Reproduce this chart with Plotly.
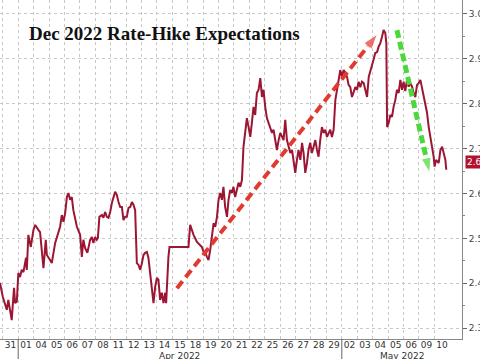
import plotly.graph_objects as go

# trading-day labels (Mar 31 .. May 10)
day_labels = ["31", "01", "04", "05", "06", "07", "08", "11", "12", "13", "14", "15", "18", "19",
              "20", "21", "22", "25", "26", "27", "28", "29", "02", "03", "04", "05", "06", "09", "10"]
month_labels = ["Apr 2022", "May 2022"]
month_start = [1, 22]          # index of first trading day of each month
month_end = [22, 29.8]

# position in trading days (fractional) and implied Dec-2022 rate
t = [-0.18, 0.00, 0.26, 0.36, 0.58, 0.65, 0.73, 0.80, 0.91, 1.01, 1.12, 1.23, 1.34, 1.51, 1.56,
     1.66, 1.82, 1.99, 2.10, 2.31, 2.42, 2.53, 2.64, 2.79, 2.86, 3.07, 3.18, 3.40, 3.61, 3.72,
     3.83, 3.94, 4.05, 4.16, 4.26, 4.37, 4.48, 4.58, 4.81, 4.91, 5.02, 5.13, 5.23, 5.34, 5.49,
     5.67, 5.78, 5.88, 5.99, 6.10, 6.17, 6.27, 6.43, 6.53, 6.64, 6.75, 6.86, 6.97, 7.08, 7.29,
     7.40, 7.51, 7.62, 7.73, 7.83, 7.94, 8.05, 8.16, 8.27, 8.38, 8.48, 8.59, 8.70, 8.81, 8.92,
     9.03, 9.13, 9.24, 9.35, 9.45, 9.56, 9.68, 9.78, 9.89, 10.00, 10.10, 10.21, 10.32, 10.43,
     10.54, 10.60, 10.75, 10.82, 12.05, 12.16, 12.27, 12.38, 12.60, 12.81, 12.92, 13.03, 13.14,
     13.25, 13.35, 13.46, 13.57, 13.68, 13.79, 13.90, 14.00, 14.11, 14.22, 14.32, 14.43, 14.55,
     14.65, 14.76, 14.87, 14.97, 15.08, 15.19, 15.30, 15.41, 15.52, 15.62, 15.73, 15.84, 15.95,
     16.06, 16.17, 16.27, 16.38, 16.49, 16.60, 16.71, 16.82, 16.92, 17.03, 17.14, 17.25, 17.36,
     17.47, 17.57, 17.68, 17.79, 17.90, 18.01, 18.22, 18.33, 18.44, 18.66, 18.77, 18.87, 18.98,
     19.09, 19.19, 19.31, 19.42, 19.52, 19.63, 19.74, 19.84, 19.95, 20.06, 20.17, 20.28, 20.39,
     20.49, 20.60, 20.71, 20.82, 20.93, 21.04, 21.14, 21.25, 21.36, 21.47, 21.58, 21.69, 21.79,
     21.90, 22.01, 22.12, 22.23, 22.34, 22.44, 22.55, 22.66, 22.77, 22.88, 22.99, 23.09, 23.20,
     23.31, 23.42, 23.53, 23.64, 23.75, 23.85, 23.96, 24.06, 24.17, 24.29, 24.39, 24.50, 24.61,
     24.71, 24.82, 24.89, 24.94, 25.04, 25.15, 25.26, 25.36, 25.47, 25.58, 25.69, 25.80, 25.91,
     26.01, 26.12, 26.23, 26.34, 26.45, 26.56, 26.66, 26.77, 26.88, 26.99, 27.10, 27.21, 27.31,
     27.42, 27.53, 27.64, 27.75, 27.86, 27.96, 28.02, 28.12, 28.29, 28.40, 28.51, 28.61, 28.72,
     28.78]
rate = [2.401, 2.370, 2.341, 2.363, 2.318, 2.347, 2.390, 2.356, 2.359, 2.423, 2.414, 2.430, 2.425,
        2.457, 2.430, 2.508, 2.481, 2.519, 2.530, 2.519, 2.514, 2.474, 2.434, 2.497, 2.463, 2.452,
        2.445, 2.490, 2.512, 2.526, 2.552, 2.537, 2.557, 2.592, 2.601, 2.586, 2.592, 2.563, 2.526,
        2.519, 2.508, 2.459, 2.497, 2.479, 2.468, 2.497, 2.503, 2.490, 2.503, 2.497, 2.501, 2.548,
        2.552, 2.546, 2.559, 2.548, 2.546, 2.559, 2.579, 2.604, 2.597, 2.581, 2.570, 2.570, 2.541,
        2.548, 2.548, 2.568, 2.570, 2.581, 2.575, 2.563, 2.445, 2.441, 2.430, 2.445, 2.463, 2.468,
        2.470, 2.457, 2.423, 2.379, 2.356, 2.392, 2.412, 2.408, 2.363, 2.379, 2.356, 2.379, 2.356,
        2.459, 2.481, 2.481, 2.530, 2.519, 2.508, 2.492, 2.486, 2.481, 2.470, 2.468, 2.459, 2.452,
        2.474, 2.503, 2.534, 2.526, 2.548, 2.586, 2.601, 2.586, 2.615, 2.570, 2.548, 2.586, 2.608,
        2.601, 2.615, 2.592, 2.612, 2.624, 2.615, 2.630, 2.704, 2.737, 2.768, 2.748, 2.726, 2.759,
        2.793, 2.775, 2.824, 2.831, 2.857, 2.815, 2.831, 2.793, 2.768, 2.757, 2.748, 2.735, 2.742,
        2.719, 2.697, 2.719, 2.735, 2.719, 2.764, 2.719, 2.690, 2.697, 2.675, 2.646, 2.675, 2.697,
        2.675, 2.713, 2.690, 2.646, 2.668, 2.697, 2.713, 2.690, 2.704, 2.719, 2.697, 2.682, 2.719,
        2.748, 2.735, 2.742, 2.726, 2.735, 2.742, 2.726, 2.742, 2.808, 2.831, 2.853, 2.875, 2.860,
        2.875, 2.869, 2.860, 2.842, 2.837, 2.815, 2.824, 2.837, 2.831, 2.849, 2.837, 2.849, 2.846,
        2.831, 2.815, 2.860, 2.871, 2.882, 2.898, 2.913, 2.915, 2.927, 2.935, 2.949, 2.964, 2.958,
        2.935, 2.748, 2.757, 2.775, 2.771, 2.793, 2.808, 2.831, 2.824, 2.853, 2.831, 2.849, 2.828,
        2.853, 2.838, 2.846, 2.838, 2.824, 2.815, 2.842, 2.846, 2.853, 2.835, 2.815, 2.802, 2.780,
        2.748, 2.726, 2.704, 2.682, 2.660, 2.675, 2.668, 2.697, 2.704, 2.690, 2.675, 2.653]
last_value = 2.67

# annotation arrows (start/end in data units)
red_arrow_t = [11.30, 24.31]
red_arrow_v = [2.389, 2.955]
green_arrow_t = [25.58, 27.70]
green_arrow_v = [2.964, 2.646]

y_ticks = [2.3, 2.4, 2.5, 2.6, 2.7, 2.8, 2.9, 3.0]

fig = go.Figure()
fig.add_trace(go.Scatter(x=t, y=rate, mode="lines",
                         line=dict(color="#9c1634", width=2), hoverinfo="skip"))
fig.add_trace(go.Scatter(x=red_arrow_t, y=red_arrow_v, mode="lines+markers",
                         line=dict(color="#e23a2e", width=4, dash="9px,5px"),
                         marker=dict(symbol="arrow", size=[0, 16], angleref="previous",
                                     color="#e23a2e"), hoverinfo="skip"))
fig.add_trace(go.Scatter(x=green_arrow_t, y=green_arrow_v, mode="lines+markers",
                         line=dict(color="#4ad83a", width=5, dash="8px,4px"),
                         marker=dict(symbol="arrow", size=[0, 16], angleref="previous",
                                     color="#4ad83a"), hoverinfo="skip"))

grid_col = "#c8c8c8"
fig.update_xaxes(range=[-0.18, 29.8], tickvals=[i + 0.5 for i in range(len(day_labels))],
                 ticktext=day_labels, showgrid=False, ticks="", zeroline=False,
                 ticklabelstandoff=-3,
                 tickfont=dict(family="DejaVu Sans", size=9, color="#333"),
                 showline=True, linecolor="#888", linewidth=1,
                 minor=dict(tickvals=list(range(0, len(day_labels))), showgrid=True,
                            gridcolor=grid_col, griddash="dot", gridwidth=1, ticks=""))
fig.update_yaxes(range=[2.276, 3.031], side="right", tickvals=y_ticks, tickformat=".2f",
                 showgrid=True, gridcolor=grid_col, griddash="dot", gridwidth=1,
                 zeroline=False, ticks="outside", ticklen=4, tickcolor="#666",
                 showline=True, linecolor="#888", linewidth=1, automargin=False,
                 ticklabeloverflow="allow",
                 tickfont=dict(family="DejaVu Sans", size=9, color="#444"),
                 minor=dict(dtick=0.05, ticks="outside", ticklen=2, tickcolor="#888", showgrid=False))

# month separators and labels
for s, e, lab in zip(month_start, month_end, month_labels):
    fig.add_shape(type="line", xref="x", yref="paper", x0=s, x1=s, y0=0, y1=-0.06,
                  line=dict(color="#666", width=1))
    fig.add_annotation(x=(s + e) / 2, y=-0.049, xref="x", yref="paper", text=lab,
                       showarrow=False, yanchor="middle",
                       font=dict(family="DejaVu Sans", size=9, color="#333"))

fig.add_annotation(x=0.058, y=0.90, xref="paper", yref="paper", xanchor="left", yanchor="middle",
                   text="<b>Dec 2022 Rate-Hike Expectations</b>", showarrow=False,
                   font=dict(family="Liberation Serif", size=19, color="#111"))

fig.add_annotation(x=1, y=last_value, xref="paper", yref="y", xanchor="left", yanchor="middle",
                   xshift=3, text="%.2f" % last_value, showarrow=False, bgcolor="#b3122e",
                   borderpad=1, font=dict(family="DejaVu Sans", size=9, color="white"))

fig.update_layout(width=480, height=359, margin=dict(l=0, r=18, t=0, b=20),
                  paper_bgcolor="white", plot_bgcolor="white", showlegend=False)
fig.write_html("out.html", config={"displayModeBar": False},
               post_script="document.body.style.margin='0';document.body.style.padding='0';")
